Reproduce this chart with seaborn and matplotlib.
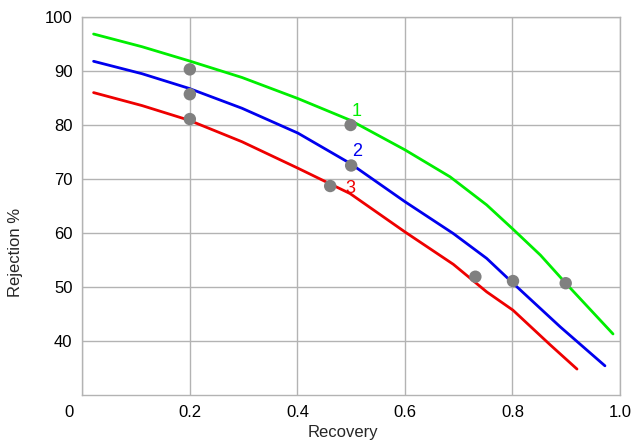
import matplotlib
matplotlib.use("Agg")
import matplotlib.pyplot as plt
import matplotlib.transforms as mtransforms
import seaborn as sns
import pandas as pd

# Kurven
curve_x = {
    "1": [0.021, 0.111, 0.198, 0.297, 0.401, 0.498, 0.600, 0.684, 0.752, 0.801, 0.852, 0.900, 0.987],
    "2": [0.021, 0.111, 0.198, 0.297, 0.401, 0.498, 0.600, 0.690, 0.752, 0.801, 0.889, 0.972],
    "3": [0.021, 0.111, 0.198, 0.297, 0.401, 0.498, 0.600, 0.690, 0.752, 0.801, 0.870, 0.920],
}
curve_y = {
    "1": [96.85, 94.5, 91.9, 88.8, 84.9, 80.9, 75.4, 70.4, 65.2, 60.7, 55.9, 50.6, 41.3],
    "2": [91.8, 89.5, 86.8, 83.1, 78.5, 72.9, 65.8, 59.9, 55.3, 50.7, 42.6, 35.4],
    "3": [86.0, 83.6, 80.9, 76.9, 72.0, 67.3, 60.2, 54.2, 49.1, 45.7, 39.3, 34.8],
}
curve_colors = {"1": "#00ee00", "2": "#0000ee", "3": "#ee0000"}

# Messpunkte
point_x = [0.2, 0.2, 0.2, 0.499, 0.5, 0.461, 0.731, 0.801, 0.899]
point_y = [90.3, 85.7, 81.1, 80.0, 72.5, 68.7, 51.9, 51.1, 50.7]

# Beschriftungen an den Kurven
label_pos = {"1": (0.510, 82.5), "2": (0.512, 75.1), "3": (0.499, 68.3)}

x_ticks = [0, 0.2, 0.4, 0.6, 0.8, 1.0]
x_ticklabels = ["0", "0.2", "0.4", "0.6", "0.8", "1.0"]
y_ticks = [40, 50, 60, 70, 80, 90, 100]

sns.set_style("white")
plt.rcParams["font.family"] = ["Liberation Sans", "DejaVu Sans"]

rows = []
for name in curve_x:
    for x, y in zip(curve_x[name], curve_y[name]):
        rows.append({"curve": name, "Recovery": x, "Rejection": y})
df = pd.DataFrame(rows)
pts = pd.DataFrame({"Recovery": point_x, "Rejection": point_y})

fig = plt.figure(figsize=(6.35, 4.43), dpi=100)
ax = fig.add_axes([0.1296, 0.1084, 0.8468, 0.8532])

sns.lineplot(data=df, x="Recovery", y="Rejection", hue="curve",
             palette=curve_colors, linewidth=2, sort=False,
             legend=False, ax=ax, zorder=3)
sns.scatterplot(data=pts, x="Recovery", y="Rejection", color="#808080",
                s=80, edgecolor="none", ax=ax, zorder=4)

for name, (lx, ly) in label_pos.items():
    ax.text(lx, ly, name, color=curve_colors[name], fontsize=13,
            ha="center", va="center", zorder=5)

ax.set_xlim(0, 1.0)
ax.set_ylim(30, 100)
ax.set_xticks(x_ticks)
ax.set_xticklabels(x_ticklabels)
ax.set_yticks(y_ticks)
ax.grid(True, color="#b3b3b3", linewidth=1)
ax.set_axisbelow(True)
for sp in ax.spines.values():
    sp.set_color("#b3b3b3")
    sp.set_linewidth(1)
ax.tick_params(length=0, labelsize=12, pad=7, colors="black")

# "0" etwas nach links versetzt wie im Original
lab0 = ax.get_xticklabels()[0]
lab0.set_transform(lab0.get_transform() +
                   mtransforms.ScaledTranslation(-13 / 100, 0, fig.dpi_scale_trans))

ax.set_xlabel("Recovery", fontsize=12, va="center")
ax.set_ylabel("Rejection %", fontsize=12, va="center", ha="center")
ax.xaxis.set_label_coords(0.485, -0.098)
ax.yaxis.set_label_coords(-0.125, 0.376)

fig.savefig("out.png", dpi=100)
